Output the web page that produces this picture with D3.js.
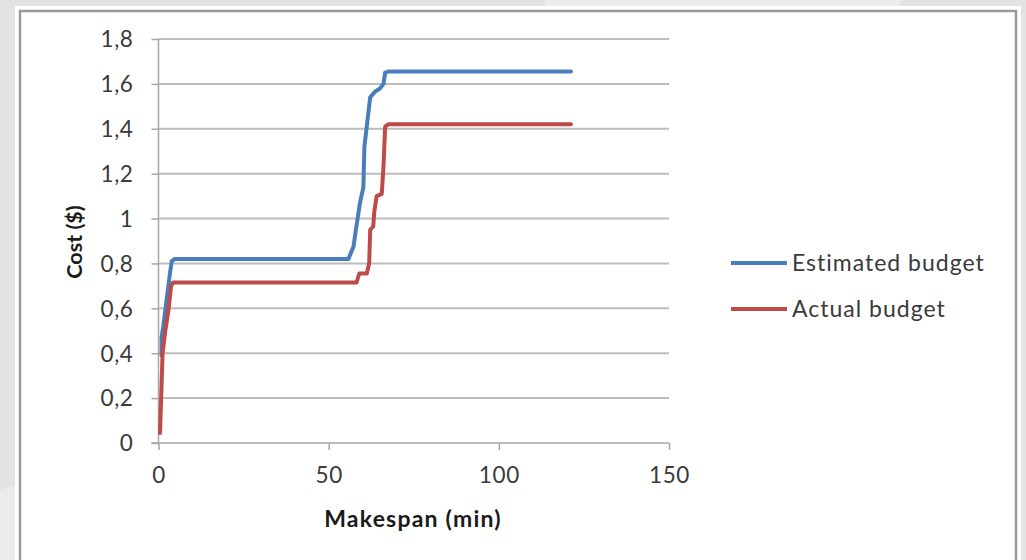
<!DOCTYPE html>
<html>
<head>
<meta charset="utf-8">
<script src="https://cdn.jsdelivr.net/npm/d3@7"></script>
<style>
  body { margin: 0; background: #e3e3e3; }
  svg { display: block; }
  .tick text { font-family: Lato, "Open Sans", sans-serif; font-size: 22.5px; letter-spacing: 0.6px; fill: #3a3a3a; }
</style>
</head>
<body>
<div id="chart"></div>
<script>
// Data
var estimatedX = [0.9, 0.9, 1.4, 2.4, 3.4, 3.9, 4.8, 55.8, 57.3, 58.0, 59.2, 60.2, 60.5, 62.2, 63.6, 65.1, 66.1, 66.6, 67.5, 121.2];
var estimatedY = [0.39, 0.47, 0.52, 0.64, 0.76, 0.81, 0.82, 0.82, 0.875, 0.95, 1.07, 1.14, 1.32, 1.54, 1.565, 1.58, 1.60, 1.65, 1.655, 1.655];

var actualX = [0.45, 1.2, 2.0, 3.0, 3.7, 4.3, 58.2, 59.0, 61.2, 61.9, 62.2, 63.1, 63.4, 64.1, 65.6, 66.1, 66.6, 67.5, 121.2];
var actualY = [0.045, 0.40, 0.50, 0.60, 0.70, 0.715, 0.715, 0.755, 0.755, 0.80, 0.95, 0.965, 1.03, 1.10, 1.11, 1.23, 1.41, 1.42, 1.42];

var xTicks = [0, 50, 100, 150];
var yTicks = [0, 0.2, 0.4, 0.6, 0.8, 1, 1.2, 1.4, 1.6, 1.8];

var seriesNames = ["Estimated budget", "Actual budget"];
var seriesColors = ["#4a7ebb", "#be4b48"];

var svgWidth = 1026;
var svgHeight = 560;

var margin = { top: 39, right: 357, bottom: 117, left: 158.5 };
var width = svgWidth - margin.left - margin.right;
var height = svgHeight - margin.top - margin.bottom;

var svg = d3
  .select("#chart")
  .append("svg")
  .attr("width", svgWidth)
  .attr("height", svgHeight);

// slide-like background
svg.append("rect").attr("width", svgWidth).attr("height", svgHeight).attr("fill", "#e3e3e3");
svg.append("polygon")
  .attr("points", "0,490 15,485 15,560 0,560")
  .attr("fill", "#ebebeb");
svg.append("polygon")
  .attr("points", "545,0 900,0 900,6 545,6")
  .attr("fill", "#ececec");

// white panel and its frame
svg.append("rect")
  .attr("x", 15).attr("y", 6)
  .attr("width", 1006).attr("height", 560)
  .attr("fill", "#ffffff");
svg.append("rect")
  .attr("x", 20).attr("y", 11)
  .attr("width", 996).attr("height", 560)
  .attr("fill", "none")
  .attr("stroke", "#9a9a9a")
  .attr("stroke-width", 2.5);

var chartGroup = svg
  .append("g")
  .attr("transform", `translate(${margin.left}, ${margin.top})`);

var xScale = d3.scaleLinear().domain([0, 150]).range([0, width]);
var yScale = d3.scaleLinear().domain([0, 1.8]).range([height, 0]);

// gridlines
chartGroup.append("g")
  .selectAll("line")
  .data(yTicks.filter((d) => d > 0))
  .enter()
  .append("line")
  .attr("x1", 0)
  .attr("x2", width)
  .attr("y1", (d) => yScale(d))
  .attr("y2", (d) => yScale(d))
  .attr("stroke", "#bdbdbd")
  .attr("stroke-width", 2);

// axes
var leftAxis = d3.axisLeft(yScale)
  .tickValues(yTicks)
  .tickSize(7)
  .tickPadding(18)
  .tickFormat((d) => d3.format("~g")(d).replace(".", ","));

var bottomAxis = d3.axisBottom(xScale)
  .tickValues(xTicks)
  .tickSize(7)
  .tickPadding(17)
  .tickFormat(d3.format("d"));

var yAxis = chartGroup.append("g").call(leftAxis);
var xAxis = chartGroup.append("g")
  .attr("transform", `translate(0, ${height})`)
  .call(bottomAxis);

[xAxis, yAxis].forEach(function (ax) {
  ax.select(".domain").attr("stroke", "#a6a6a6").attr("stroke-width", 1.5);
  ax.selectAll(".tick line").attr("stroke", "#a6a6a6").attr("stroke-width", 1.5);
});
yAxis.select(".domain").attr("d", `M0,${height}V0`);
xAxis.select(".domain").attr("d", `M-7,0H${width}`);
yAxis.selectAll(".tick text").attr("dy", "0.35em");

// series lines
var line = d3.line()
  .x((d) => xScale(d[0]))
  .y((d) => yScale(d[1]));

var seriesData = [
  d3.zip(estimatedX, estimatedY),
  d3.zip(actualX, actualY),
];

chartGroup.selectAll(".series")
  .data(seriesData)
  .enter()
  .append("path")
  .attr("class", "series")
  .attr("d", line)
  .attr("fill", "none")
  .attr("stroke", (d, i) => seriesColors[i])
  .attr("stroke-width", 4)
  .attr("stroke-linejoin", "round")
  .attr("stroke-linecap", "round");

// axis titles
svg.append("text")
  .attr("x", 413)
  .attr("y", 527)
  .attr("text-anchor", "middle")
  .attr("font-family", "Lato, 'Open Sans', sans-serif")
  .attr("font-weight", "bold")
  .attr("font-size", 23)
  .attr("letter-spacing", 1.2)
  .attr("fill", "#1a1a1a")
  .text("Makespan (min)");

svg.append("text")
  .attr("transform", "translate(82, 242) rotate(-90)")
  .attr("text-anchor", "middle")
  .attr("font-family", "Lato, 'Open Sans', sans-serif")
  .attr("font-weight", "bold")
  .attr("font-size", 21.5)
  .attr("fill", "#1a1a1a")
  .text("Cost ($)");

// legend
var legend = svg.append("g").attr("transform", "translate(731, 263)");
var legendItems = legend.selectAll("g")
  .data(seriesNames)
  .enter()
  .append("g")
  .attr("transform", (d, i) => `translate(0, ${i * 46})`);

legendItems.append("line")
  .attr("x1", 0)
  .attr("x2", 56)
  .attr("stroke", (d, i) => seriesColors[i])
  .attr("stroke-width", 4);

legendItems.append("text")
  .attr("x", 61)
  .attr("dy", "0.35em")
  .attr("font-family", "Lato, 'Open Sans', sans-serif")
  .attr("font-size", 23)
  .attr("letter-spacing", 1)
  .attr("fill", "#3a3a3a")
  .text((d) => d);
</script>
</body>
</html>
